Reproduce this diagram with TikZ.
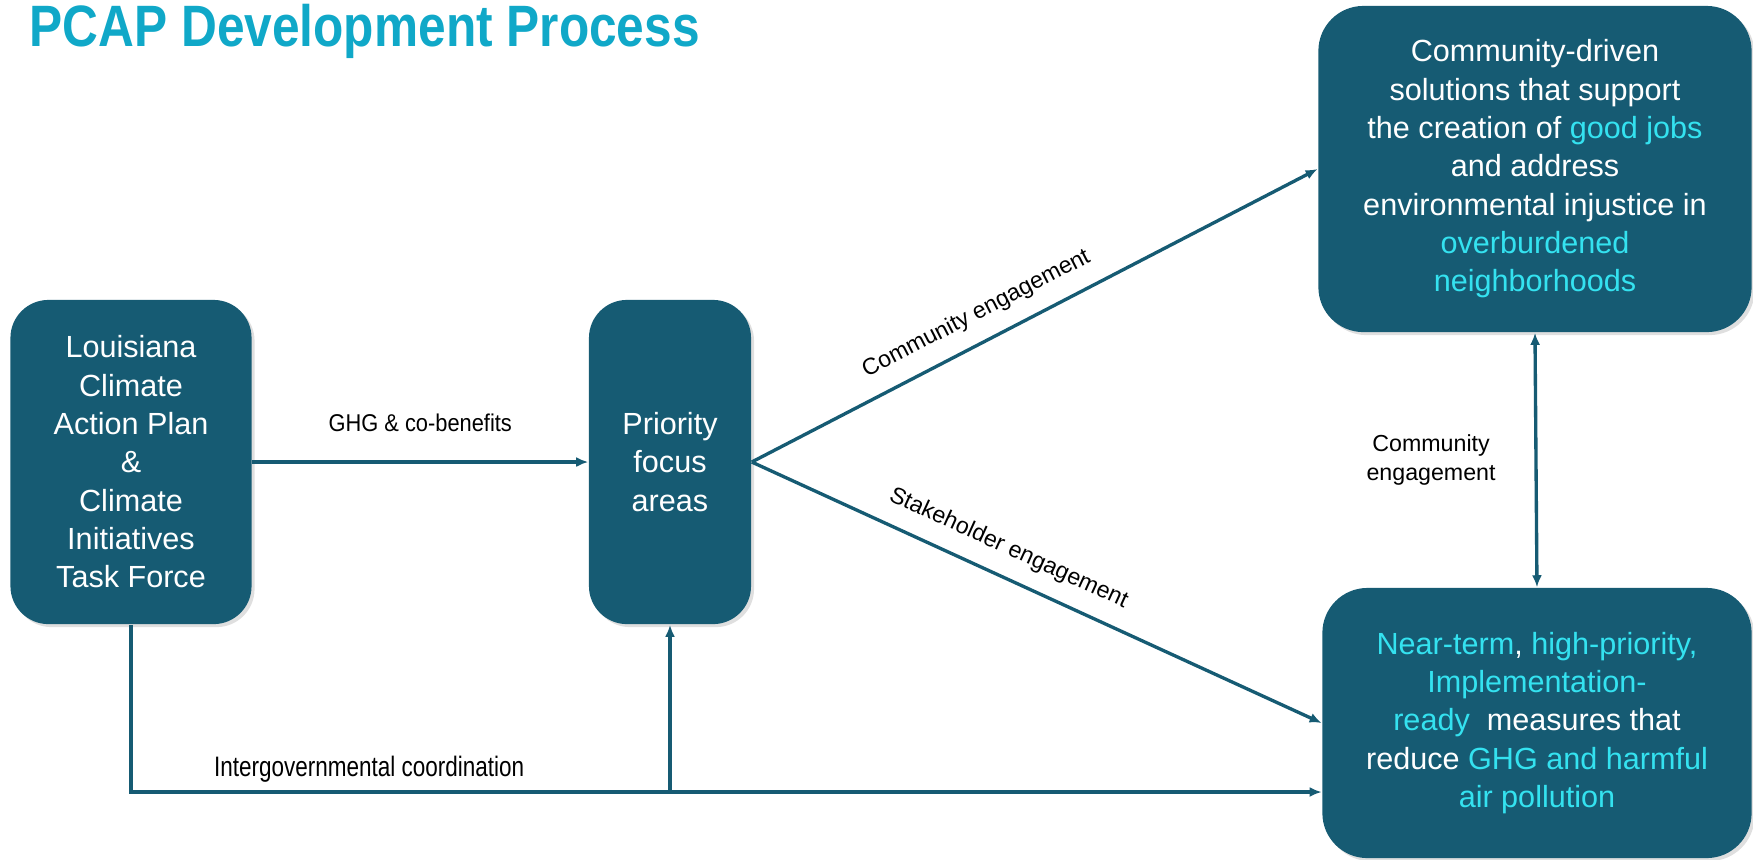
\documentclass[tikz,border=0pt]{standalone}
\usepackage{fontspec}
\setmainfont{Liberation Sans}
\newfontfamily\narrowfont[FakeStretch=0.9]{Liberation Sans}
\newfontfamily\condfont[FakeStretch=0.8]{Liberation Sans}
\newfontfamily\titlefont[FakeStretch=0.85]{Liberation Sans}
\usetikzlibrary{arrows.meta,shadows}
\definecolor{pcapteal}{RGB}{22,91,115}
\definecolor{pcaptitle}{RGB}{16,168,200}
\definecolor{pcapcyan}{RGB}{52,226,240}
\newcommand{\hl}[1]{\textcolor{pcapcyan}{#1}}

\begin{document}
\begin{tikzpicture}[x=0.01cm,y=-0.01cm,
  box/.style={fill=pcapteal, rounded corners=0.38cm, text=white, align=center,
    font=\fontsize{8.7}{10.9}\selectfont,
    drop shadow={opacity=0.25, shadow xshift=0.03cm, shadow yshift=-0.03cm}},
  flow/.style={draw=pcapteal, line width=0.95pt, -{Latex[length=0.12cm,width=0.1cm]}},
  lbl/.style={font=\fontsize{6.6}{8.2}\selectfont}]

  \useasboundingbox (0,0) rectangle (1753,859);

  \node[anchor=base west, inner sep=0, text=pcaptitle,
    font=\titlefont\bfseries\fontsize{16.6}{18}\selectfont] (title) at (29,46) {PCAP Development Process};

  % boxes
  \node[box, minimum width=2.41cm, minimum height=3.24cm] (lcap) at (131,462)
    {Louisiana\\Climate\\Action Plan\\\&\\Climate\\Initiatives\\Task Force};
  \node[box, minimum width=1.62cm, minimum height=3.24cm] (focus) at (670,462)
    {Priority\\focus\\areas};
  \node[box, minimum width=4.33cm, minimum height=3.26cm, rounded corners=0.45cm] (sol) at (1535,169)
    {Community-driven\\solutions that support\\the creation of \hl{good jobs}\\and address\\
     environmental injustice in\\\hl{overburdened}\\\hl{neighborhoods}};
  \node[box, minimum width=4.29cm, minimum height=2.7cm, rounded corners=0.45cm] (meas) at (1537,723)
    {\hl{Near-term}, \hl{high-priority,}\\\hl{Implementation-}\\\hl{ready}\ \ measures that\\
     reduce \hl{GHG and harmful}\\\hl{air pollution}};

  % arrows
  \draw[flow] (lcap) -- (focus) node[midway, above=0.17cm, lbl, font=\narrowfont\fontsize{6.9}{8.2}\selectfont] {GHG \& co-benefits};
  \draw[flow] (focus.east) -- (sol.west) node[pos=0.42, sloped, above=0.04cm, lbl] {Community engagement};
  \draw[flow] (focus.east) -- (meas.west) node[pos=0.43, sloped, above=0.04cm, lbl] {Stakeholder engagement};
  \draw[flow, {Latex[length=0.12cm,width=0.1cm]}-{Latex[length=0.12cm,width=0.1cm]}] (sol.south) -- (meas.north)
    node[midway, left=0.27cm, lbl, align=center] {Community\\engagement};

  \coordinate (bend) at (131,792);
  \coordinate (split) at (focus.south |- bend);
  \draw[flow] (lcap.south) |- (meas.west |- bend)
    node[pos=0.6, above=-0.04cm, font=\condfont\fontsize{8}{9}\selectfont] {Intergovernmental coordination};
  \draw[flow] (split) -- (focus.south);

\end{tikzpicture}
\end{document}
